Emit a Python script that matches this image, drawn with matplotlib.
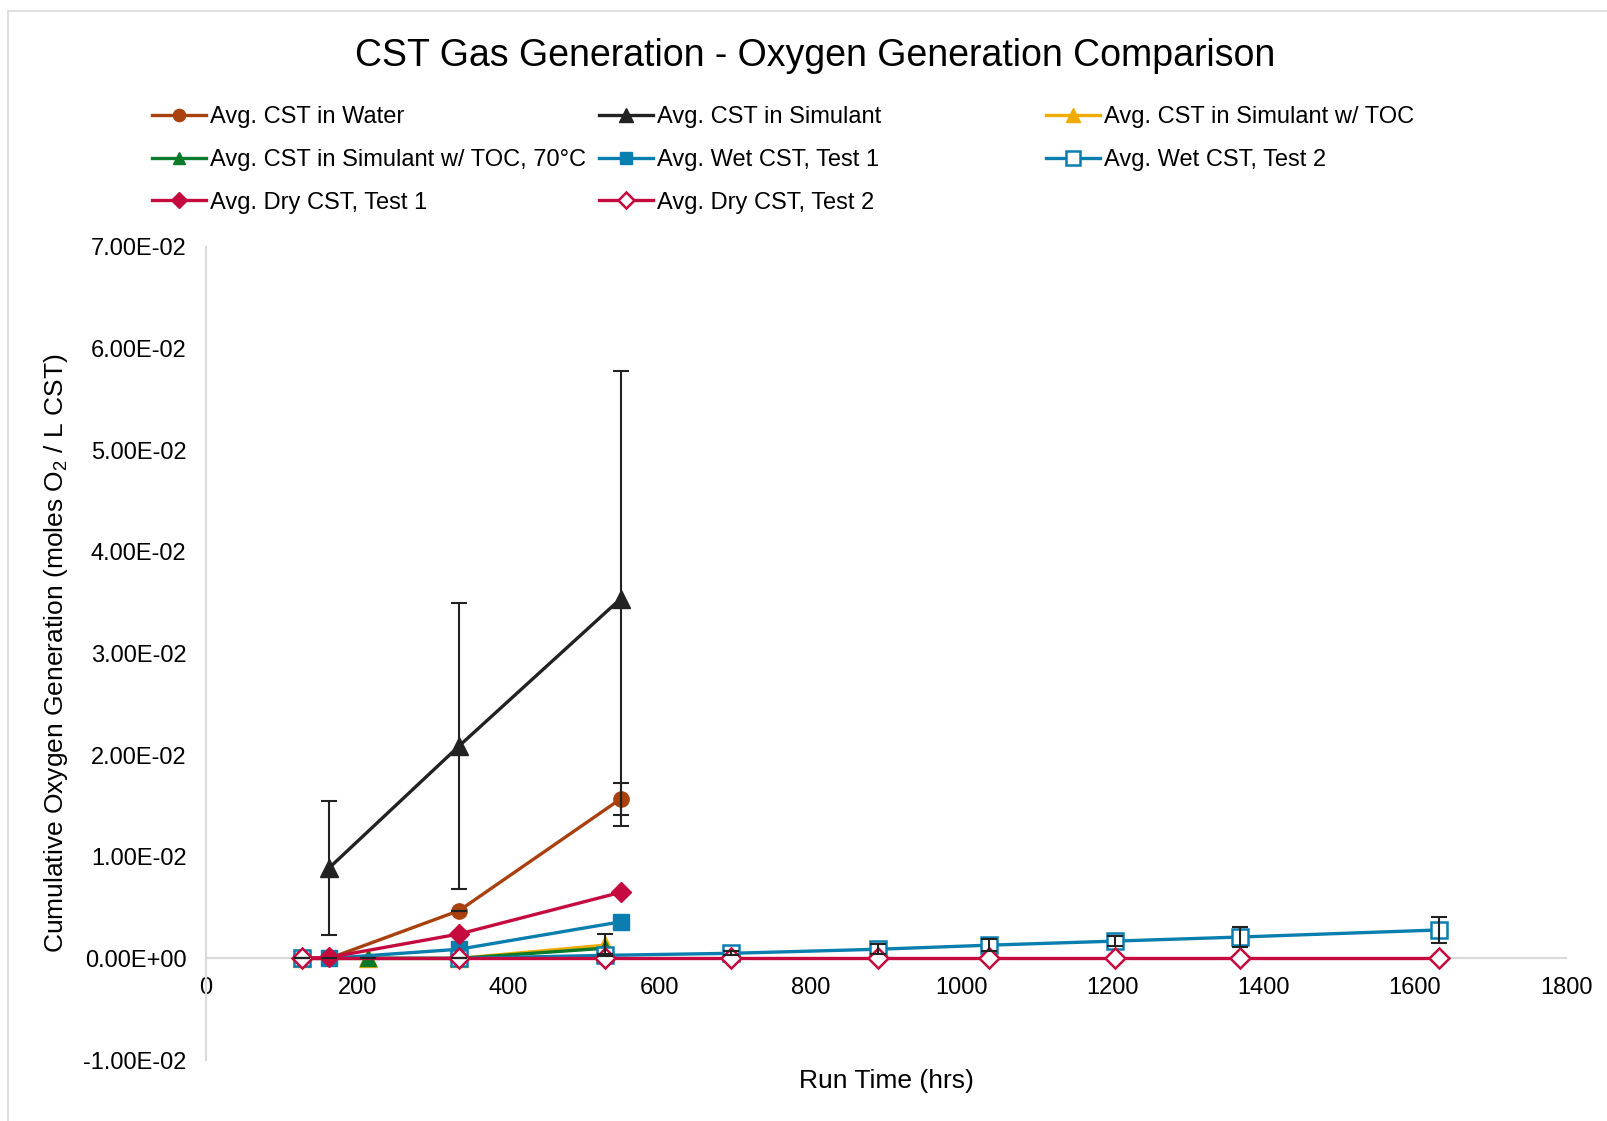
import matplotlib
matplotlib.use("Agg")
import matplotlib.pyplot as plt
import matplotlib.ticker as mticker
from matplotlib.patches import Rectangle

plt.rcParams['font.family'] = ['Liberation Sans', 'DejaVu Sans']
plt.rcParams['mathtext.fontset'] = 'custom'
plt.rcParams['mathtext.rm'] = 'Liberation Sans'

# data
water_x = [163, 335, 549]
water_y = [0.0, 0.0047, 0.0157]
water_err = [0.0, 0.0, 0.0016]

sim_x = [163, 335, 549]
sim_y = [0.0089, 0.0209, 0.0354]
sim_err = [0.0066, 0.0141, 0.0224]

toc_x = [127, 215, 335, 528]
toc_y = [0.0, 0.0, 0.0, 0.0013]
toc_err = [0.0, 0.0, 0.0, 0.0011]

toc70_x = [127, 215, 335, 528]
toc70_y = [0.0, 0.0, 0.0, 0.0010]

wet1_x = [127, 163, 335, 549]
wet1_y = [0.0, 0.0, 0.0009, 0.0036]

wet2_x = [127, 335, 528, 695, 890, 1036, 1203, 1368, 1632]
wet2_y = [0.0, 0.0, 0.0003, 0.0005, 0.0009, 0.0013, 0.0017, 0.0021, 0.0028]
wet2_err = [0.0, 0.0, 0.0001, 0.0002, 0.0005, 0.0006, 0.0005, 0.0010, 0.0013]

dry1_x = [127, 163, 335, 549]
dry1_y = [0.0, 0.0001, 0.0024, 0.0065]

dry2_x = [127, 335, 528, 695, 890, 1036, 1203, 1368, 1632]
dry2_y = [0.0, 0.0, 0.0, 0.0, 0.0, 0.0, 0.0, 0.0, 0.0]

ORANGE = '#A9410F'
BLACK = '#222222'
YELLOW = '#F0AB00'
GREEN = '#0B7A2A'
BLUE = '#0A7FAF'
CRIMSON = '#C50A3F'

fig = plt.figure(figsize=(16.08, 11.21), dpi=100)
ax = fig.add_axes([0.1281, 0.0544, 0.8458, 0.7253])

# light chart-area border (top and left edges visible)
fig.add_artist(Rectangle((8 / 1608, -0.1), 1.2, 1.1 - 11 / 1121,
                         transform=fig.transFigure, fill=False,
                         edgecolor='#D9D9D9', linewidth=1.2))

lw = 2.4
err_kw = dict(fmt='none', ecolor=BLACK, elinewidth=1.5, capsize=6, capthick=1.5)

h_water, = ax.plot(water_x, water_y, color=ORANGE, lw=lw, marker='o', ms=11, zorder=3)
ax.errorbar(water_x, water_y, yerr=water_err, zorder=4, **err_kw)

h_sim, = ax.plot(sim_x, sim_y, color=BLACK, lw=lw, marker='^', ms=13, zorder=3)
ax.errorbar(sim_x, sim_y, yerr=sim_err, zorder=4, **err_kw)

h_toc, = ax.plot(toc_x, toc_y, color=YELLOW, lw=lw, marker='^', ms=13, zorder=3)
ax.errorbar(toc_x, toc_y, yerr=toc_err, zorder=4, **err_kw)

h_toc70, = ax.plot(toc70_x, toc70_y, color=GREEN, lw=lw, marker='^', ms=11, zorder=3)

h_wet1, = ax.plot(wet1_x, wet1_y, color=BLUE, lw=lw, marker='s', ms=11, zorder=3)

h_wet2, = ax.plot(wet2_x, wet2_y, color=BLUE, lw=lw, marker='s', ms=12,
                  markerfacecolor='white', markeredgewidth=1.8, zorder=3)
ax.errorbar(wet2_x, wet2_y, yerr=wet2_err, zorder=4, **err_kw)

h_dry1, = ax.plot(dry1_x, dry1_y, color=CRIMSON, lw=lw, marker='D', ms=10, zorder=3)

h_dry2, = ax.plot(dry2_x, dry2_y, color=CRIMSON, lw=lw, marker='D', ms=10,
                  markerfacecolor='white', markeredgewidth=1.8, zorder=3)

ax.set_xlim(0, 1800)
ax.set_ylim(-0.01, 0.07)
ax.xaxis.set_major_locator(mticker.MultipleLocator(200))
ax.yaxis.set_major_locator(mticker.MultipleLocator(0.01))
ax.yaxis.set_major_formatter(mticker.FuncFormatter(lambda v, p: f"{v:.2E}"))

for s in ['top', 'right']:
    ax.spines[s].set_visible(False)
ax.spines['bottom'].set_position(('data', 0))
ax.spines['bottom'].set_color('#D9D9D9')
ax.spines['left'].set_color('#D9D9D9')
ax.spines['bottom'].set_linewidth(1.5)
ax.spines['left'].set_linewidth(1.5)
ax.spines['bottom'].set_zorder(1)

ax.tick_params(axis='x', length=0, pad=13.5, labelsize=17)
ax.tick_params(axis='y', length=0, pad=14, labelsize=17)

ax.set_xlabel('Run Time (hrs)', fontsize=19)
ax.set_ylabel('Cumulative Oxygen Generation (moles O$_\\mathregular{2}$ / L CST)', fontsize=19)
ax.xaxis.set_label_coords(0.5, -0.011)
ax.yaxis.set_label_coords(-0.100, 0.5)

fig.text(0.507, 0.950, 'CST Gas Generation - Oxygen Generation Comparison',
         ha='center', va='center', fontsize=27)

columns = [
    ([h_water, h_toc70, h_dry1],
     ['Avg. CST in Water', 'Avg. CST in Simulant w/ TOC, 70°C', 'Avg. Dry CST, Test 1'], 0.0945),
    ([h_sim, h_wet1, h_dry2],
     ['Avg. CST in Simulant', 'Avg. Wet CST, Test 1', 'Avg. Dry CST, Test 2'], 0.3725),
    ([h_toc, h_wet2],
     ['Avg. CST in Simulant w/ TOC', 'Avg. Wet CST, Test 2'], 0.6505),
]
for handles, labels, x0 in columns:
    fig.legend(handles, labels, loc='upper left', bbox_to_anchor=(x0, 0.905),
               frameon=False, fontsize=17, borderpad=0, borderaxespad=0,
               handlelength=2.3, handletextpad=0.15, labelspacing=0.87,
               markerscale=0.8)

fig.savefig('out.png', dpi=100)
